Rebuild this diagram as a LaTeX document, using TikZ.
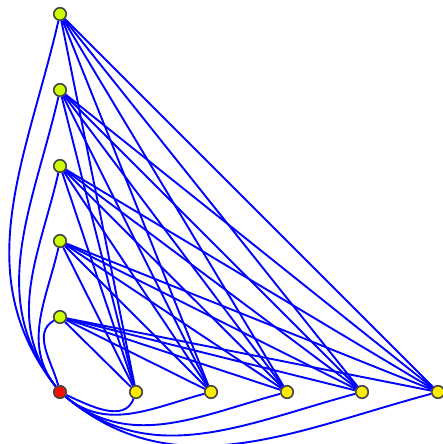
\documentclass[tikz,border=0pt]{standalone}
\usepackage{xcolor}
\usetikzlibrary{backgrounds}

\definecolor{vgreen}{rgb}{0.80,1.00,0.00}
\definecolor{vyellow}{rgb}{1.00,0.92,0.00}
\definecolor{vred}{rgb}{1.00,0.05,0.00}
\definecolor{vborder}{rgb}{0.27,0.27,0.27}

\begin{document}
\begin{tikzpicture}[
  x=1pt, y=-1pt,
  leftvertex/.style={circle, draw=vborder, fill=vgreen, line width=1.6pt, minimum size=12.5pt, inner sep=0pt},
  bottomvertex/.style={circle, draw=vborder, fill=vyellow, line width=1.6pt, minimum size=12.5pt, inner sep=0pt},
  rootvertex/.style={circle, draw=vborder, fill=vred, line width=1.6pt, minimum size=12.5pt, inner sep=0pt},
  edge/.style={blue, line width=1.9pt},
]
\useasboundingbox (0,0) rectangle (443,444);

%% ── Left column ──────────────────────────────────────────────────────────────
\node[leftvertex] (l1) at (60, 14) {};
\node[leftvertex] (l2) at (60, 90) {};
\node[leftvertex] (l3) at (60,166) {};
\node[leftvertex] (l4) at (60,241) {};
\node[leftvertex] (l5) at (60,317) {};

%% ── Corner vertex ────────────────────────────────────────────────────────────
\node[rootvertex] (r) at (60,392) {};

%% ── Bottom row ───────────────────────────────────────────────────────────────
\node[bottomvertex] (b1) at (136,392) {};
\node[bottomvertex] (b2) at (211,392) {};
\node[bottomvertex] (b3) at (287,392) {};
\node[bottomvertex] (b4) at (362,392) {};
\node[bottomvertex] (b5) at (438,392) {};

\begin{scope}[on background layer]
%% ── Left → bottom (straight) ─────────────────────────────────────────────────
\foreach \i in {1,...,5} {
  \foreach \j in {1,...,5} {
    \draw[edge] (l\i) -- (b\j);
  }
}

%% ── Corner → left (curved) ───────────────────────────────────────────────────
\foreach \i in {1,2,3,4} {
  \draw[edge] (r) to[out=128, in=-103] (l\i);
}
\draw[edge] (r) to[out=105, in=-150] (l5);

%% ── Corner → bottom (curved) ─────────────────────────────────────────────────
\foreach \j in {2,3,4,5} {
  \draw[edge] (r) to[out=-40, in=-165] (b\j);
}
\draw[edge] (r) to[out=-25, in=-110] (b1);
\end{scope}

\end{tikzpicture}
\end{document}
